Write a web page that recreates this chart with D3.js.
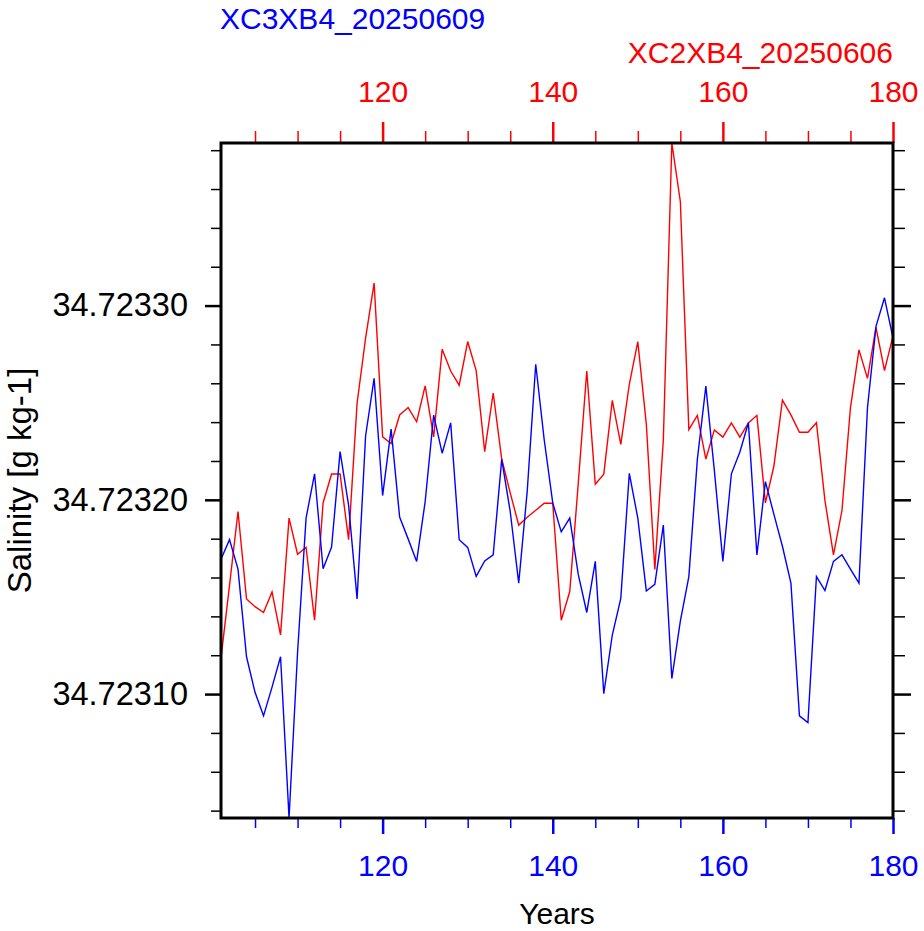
<!DOCTYPE html>
<html lang="en">
<head>
<meta charset="UTF-8">
<title>Salinity</title>
<script src="https://d3js.org/d3.v7.min.js"></script>
<style>
  body { margin: 0; background: #fff; }
  svg { display: block; font-family: 'Liberation Sans', Arial, Helvetica, sans-serif; }
</style>
</head>
<body>
<svg id="chart" width="924" height="931"></svg>
<script>
var years = [101,102,103,104,105,106,107,108,109,110,111,112,113,114,115,116,117,118,119,120,
  121,122,123,124,125,126,127,128,129,130,131,132,133,134,135,136,137,138,139,140,
  141,142,143,144,145,146,147,148,149,150,151,152,153,154,155,156,157,158,159,160,
  161,162,163,164,165,166,167,168,169,170,171,172,173,174,175,176,177,178,179,180];

// XC2XB4_20250606 (red)
var salRed = [34.7231185,34.7231560,34.7231940,34.7231490,34.7231450,34.7231420,34.7231526,34.7231305,34.7231906,34.7231720,
  34.7231755,34.7231380,34.7231984,34.7232133,34.7232133,34.7231795,34.7232498,34.7232833,34.7233116,34.7232324,
  34.7232290,34.7232437,34.7232475,34.7232402,34.7232587,34.7232324,34.7232775,34.7232663,34.7232590,34.7232815,
  34.7232665,34.7232248,34.7232550,34.7232210,34.7232036,34.7231870,34.7231910,34.7231946,34.7231982,34.7231982,
  34.7231380,34.7231528,34.7232085,34.7232663,34.7232080,34.7232132,34.7232512,34.7232285,34.7232595,34.7232814,
  34.7232390,34.7231642,34.7232308,34.7233837,34.7233536,34.7232362,34.7232435,34.7232210,34.7232360,34.7232323,
  34.7232396,34.7232323,34.7232396,34.7232435,34.7231984,34.7232174,34.7232513,34.7232437,34.7232348,34.7232348,
  34.7232397,34.7231996,34.7231717,34.7231945,34.7232475,34.7232772,34.7232625,34.7232888,34.7232665,34.7232844];

// XC3XB4_20250609 (blue)
var salBlue = [34.7231694,34.7231795,34.7231643,34.7231192,34.7231009,34.7230888,34.7231036,34.7231192,34.7230362,34.7231214,
  34.7231906,34.7232134,34.7231645,34.7231757,34.7232248,34.7231973,34.7231490,34.7232330,34.7232625,34.7232022,
  34.7232364,34.7231911,34.7231799,34.7231683,34.7231990,34.7232436,34.7232240,34.7232396,34.7231795,34.7231755,
  34.7231606,34.7231685,34.7231717,34.7232208,34.7231940,34.7231571,34.7232045,34.7232698,34.7232308,34.7231984,
  34.7231835,34.7231906,34.7231616,34.7231420,34.7231683,34.7231002,34.7231304,34.7231493,34.7232136,34.7231906,
  34.7231531,34.7231565,34.7231870,34.7231080,34.7231375,34.7231605,34.7232208,34.7232585,34.7232150,34.7231683,
  34.7232134,34.7232246,34.7232397,34.7231716,34.7232094,34.7231925,34.7231761,34.7231571,34.7230888,34.7230853,
  34.7231605,34.7231533,34.7231683,34.7231717,34.7231643,34.7231571,34.7232475,34.7232893,34.7233040,34.7232833];

var xMajor = [120, 140, 160, 180];
var xMinor = [105, 110, 115, 125, 130, 135, 145, 150, 155, 165, 170, 175];
var yMajor = [34.7231, 34.7232, 34.7233];
var yMinor = [34.72304, 34.72306, 34.72308, 34.72312, 34.72314, 34.72316, 34.72318,
  34.72322, 34.72324, 34.72326, 34.72328, 34.72332, 34.72334, 34.72336, 34.72338];

var titleBlue = "XC3XB4_20250609";
var titleRed = "XC2XB4_20250606";

var svg = d3.select("#chart");
// plot frame (window.top is reserved, hence the p prefix)
var pLeft = 221, pRight = 893, pTop = 143, pBottom = 818;
var fs = 30;

var x = d3.scaleLinear().domain([101, 180]).range([pLeft, pRight]);
var y = d3.scaleLinear().domain(d3.extent(salRed.concat(salBlue))).range([pBottom, pTop]);

function styleAxis(g, color, width, size) {
  g.select(".domain").remove();
  g.selectAll("line").attr("stroke", color).attr("stroke-width", width);
  g.selectAll("text").attr("fill", color).attr("font-size", size || fs);
}

// bottom axis (blue)
svg.append("g").attr("transform", "translate(0," + pBottom + ")")
  .call(d3.axisBottom(x).tickValues(xMinor).tickSize(10).tickFormat(""))
  .call(styleAxis, "#0000ff", 1.5);
svg.append("g").attr("transform", "translate(0," + pBottom + ")")
  .call(d3.axisBottom(x).tickValues(xMajor).tickSize(16).tickPadding(21).tickFormat(d3.format("d")))
  .call(styleAxis, "#0000ff", 2.5);

// top axis (red)
svg.append("g").attr("transform", "translate(0," + pTop + ")")
  .call(d3.axisTop(x).tickValues(xMinor).tickSize(12).tickFormat(""))
  .call(styleAxis, "#ff0000", 1.5);
svg.append("g").attr("transform", "translate(0," + pTop + ")")
  .call(d3.axisTop(x).tickValues(xMajor).tickSize(21).tickPadding(20).tickFormat(d3.format("d")))
  .call(styleAxis, "#ff0000", 2.5);

// left axis
svg.append("g").attr("transform", "translate(" + pLeft + ",0)")
  .call(d3.axisLeft(y).tickValues(yMinor).tickSize(10).tickFormat(""))
  .call(styleAxis, "#000", 1.5);
svg.append("g").attr("transform", "translate(" + pLeft + ",0)")
  .call(d3.axisLeft(y).tickValues(yMajor).tickSize(16).tickPadding(17).tickFormat(d3.format(".5f")))
  .call(styleAxis, "#000", 2.5, 32.5);

// right axis
svg.append("g").attr("transform", "translate(" + pRight + ",0)")
  .call(d3.axisRight(y).tickValues(yMinor).tickSize(12).tickFormat(""))
  .call(styleAxis, "#000", 1.5);
svg.append("g").attr("transform", "translate(" + pRight + ",0)")
  .call(d3.axisRight(y).tickValues(yMajor).tickSize(18).tickFormat(""))
  .call(styleAxis, "#000", 2.5);

// lines
var line = d3.line().x(function(d, i) { return x(years[i]); }).y(function(d) { return y(d); });
svg.append("path").datum(salRed).attr("d", line)
  .attr("fill", "none").attr("stroke", "#ff0000").attr("stroke-width", 1.4);
svg.append("path").datum(salBlue).attr("d", line)
  .attr("fill", "none").attr("stroke", "#0000ff").attr("stroke-width", 1.4);

// frame
svg.append("rect").attr("x", pLeft).attr("y", pTop)
  .attr("width", pRight - pLeft).attr("height", pBottom - pTop)
  .attr("fill", "none").attr("stroke", "#000").attr("stroke-width", 3);

// titles and labels
svg.append("text").attr("x", pLeft - 1).attr("y", 29)
  .attr("font-size", fs).attr("fill", "#0000ff").text(titleBlue);
svg.append("text").attr("x", pRight).attr("y", 63).attr("text-anchor", "end")
  .attr("font-size", fs).attr("fill", "#ff0000").text(titleRed);
svg.append("text").attr("x", (pLeft + pRight) / 2).attr("y", 924).attr("text-anchor", "middle")
  .attr("font-size", fs).attr("fill", "#000").text("Years");
svg.append("text").attr("transform", "translate(31," + (pTop + pBottom) / 2 + ") rotate(-90)")
  .attr("text-anchor", "middle").attr("font-size", 33).attr("fill", "#000").text("Salinity [g kg-1]");
</script>
</body>
</html>
